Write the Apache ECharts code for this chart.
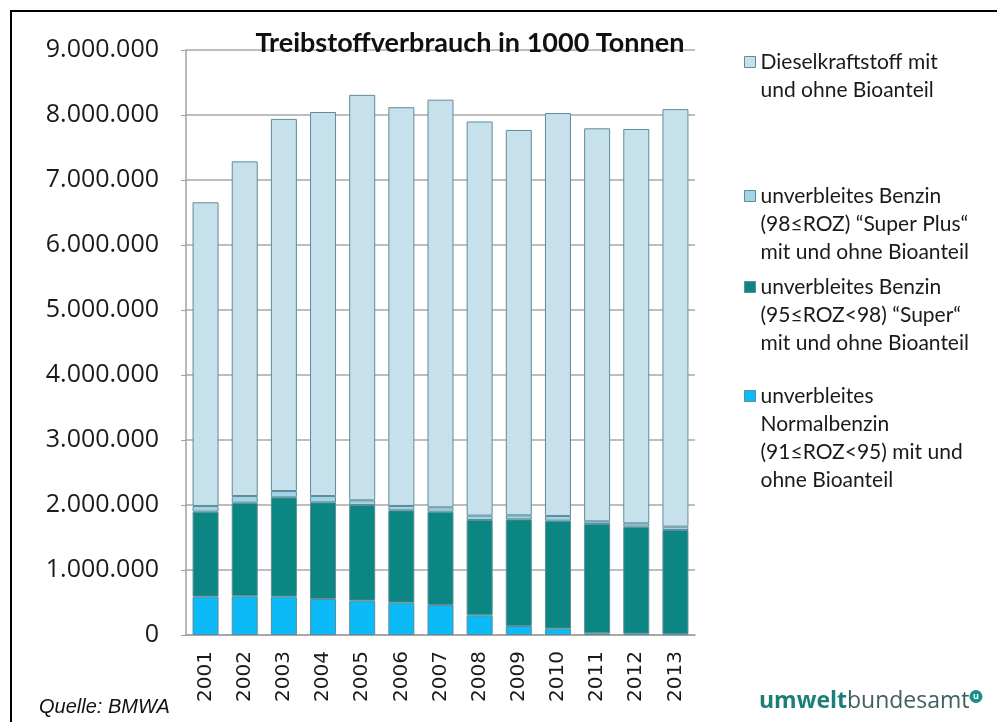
<!DOCTYPE html>
<html><head><meta charset="utf-8">
<script src="https://cdn.jsdelivr.net/npm/echarts@6/dist/echarts.min.js"></script>
<style>html,body{margin:0;padding:0;background:#fff}#c{width:997px;height:722px}</style>
</head><body><div id="c"></div>
<script>
const years = ['2001','2002','2003','2004','2005','2006','2007','2008','2009','2010','2011','2012','2013'];
const normalbenzin = [589000, 595000, 589000, 554000, 528000, 497000, 462000, 303000, 138000, 97000, 26000, 20000, 14000];
const superBenzin = [1308000, 1441000, 1529000, 1487000, 1472000, 1421000, 1435000, 1466000, 1641000, 1662000, 1682000, 1647000, 1601000];
const superPlus = [88000, 102000, 97000, 97000, 72000, 67000, 67000, 67000, 62000, 72000, 41000, 51000, 52000];
const diesel = [4672000, 5149000, 5725000, 5908000, 6238000, 6135000, 6272000, 6064000, 5929000, 6199000, 6046000, 6067000, 6423000];
const yTicks = [0, 1000000, 2000000, 3000000, 4000000, 5000000, 6000000, 7000000, 8000000, 9000000];
const names = {
  diesel: 'Dieselkraftstoff mit\nund ohne Bioanteil',
  plus: 'unverbleites Benzin\n(98≤ROZ) “Super Plus“\nmit und ohne Bioanteil',
  sup: 'unverbleites Benzin\n(95≤ROZ<98) “Super“\nmit und ohne Bioanteil',
  normal: 'unverbleites\nNormalbenzin\n(91≤ROZ<95) mit und\nohne Bioanteil'
};
const title = 'Treibstoffverbrauch in 1000 Tonnen';

const fmt = v => String(v).replace(/\B(?=(\d{3})+(?!\d))/g, '.');
const border = '#5c8d99';
const legendText = {fontFamily: 'Lato', fontSize: 21, color: '#1a1a1a', lineHeight: 28};
function mkLegend(key, firstLineCenter) {
  const n = names[key].split('\n').length;
  return {
    data: [names[key]], orient: 'vertical', left: 744, top: firstLineCenter - (2 * n - 1) * 14,
    padding: 0, itemWidth: 11, itemHeight: 11, itemGap: 0, selectedMode: false,
    icon: 'rect', itemStyle: {borderColor: border, borderWidth: 1},
    textStyle: legendText,
    formatter: name => '\n'.repeat(n - 1) + name
  };
}
const chart = echarts.init(document.getElementById('c'), null, {renderer: 'canvas'});
const barCommon = {type: 'bar', stack: 'total', barWidth: 26};
chart.setOption({
  animation: false,
  backgroundColor: '#fff',
  title: {text: title, left: 465, top: 25, textAlign: 'center',
    textStyle: {fontFamily: 'Lato', fontWeight: 'bold', fontSize: 27, color: '#111'}},
  legend: [mkLegend('diesel', 62), mkLegend('plus', 196), mkLegend('sup', 287), mkLegend('normal', 396)],
  grid: {left: 186, right: 302, top: 50, bottom: 87},
  xAxis: {type: 'category', data: years,
    axisLine: {lineStyle: {color: '#a0a0a0', width: 1.5}}, axisTick: {show: false},
    axisLabel: {rotate: 90, margin: 16, fontFamily: 'DejaVu Sans', fontSize: 20, color: '#1a1a1a'}},
  yAxis: {type: 'value', min: 0, max: 9000000, interval: 1000000,
    axisLine: {show: true, lineStyle: {color: '#a0a0a0', width: 1.5}},
    axisTick: {show: true, inside: false, length: 5, lineStyle: {color: '#a0a0a0'}},
    splitLine: {lineStyle: {color: '#a8a8a8', width: 1.5}},
    axisLabel: {margin: 27, fontFamily: 'Open Sans', fontSize: 25, color: '#1a1a1a',
      formatter: v => yTicks.includes(v) ? fmt(v) : ''}},
  series: [
    Object.assign({}, barCommon, {name: names.normal, data: normalbenzin, itemStyle: {color: '#0bbaf6', borderColor: border, borderWidth: 1}}),
    Object.assign({}, barCommon, {name: names.sup, data: superBenzin, itemStyle: {color: '#0b8683', borderColor: border, borderWidth: 1}}),
    Object.assign({}, barCommon, {name: names.plus, data: superPlus, itemStyle: {color: '#a2d4e6', borderColor: border, borderWidth: 1}}),
    Object.assign({}, barCommon, {name: names.diesel, data: diesel, itemStyle: {color: '#c6e0ec', borderColor: border, borderWidth: 1}})
  ],
  graphic: [
    {type: 'polyline', shape: {points: [[11, 722], [11, 11], [997, 11]]}, style: {stroke: '#000', lineWidth: 2, fill: null}},
    {type: 'text', left: 39, top: 697, style: {text: 'Quelle: BMWA', fontFamily: 'Liberation Sans', fontStyle: 'italic', fontSize: 20, fill: '#111'}},
    {type: 'text', left: 759, top: 690, style: {
      text: '{a|umwelt}{b|bundesamt}{c|u}',
      rich: {
        a: {fontFamily: 'Open Sans', fontWeight: 'bold', fontSize: 23, fill: '#1b7f78'},
        b: {fontFamily: 'Open Sans', fontSize: 23, fill: '#3f5e60'},
        c: {fontFamily: 'Open Sans', fontWeight: 'bold', fontSize: 9, fill: '#fff', backgroundColor: '#1b8f86', borderRadius: 7, width: 13, height: 13, align: 'center', verticalAlign: 'top'}
      }}}
  ]
});
</script></body></html>
